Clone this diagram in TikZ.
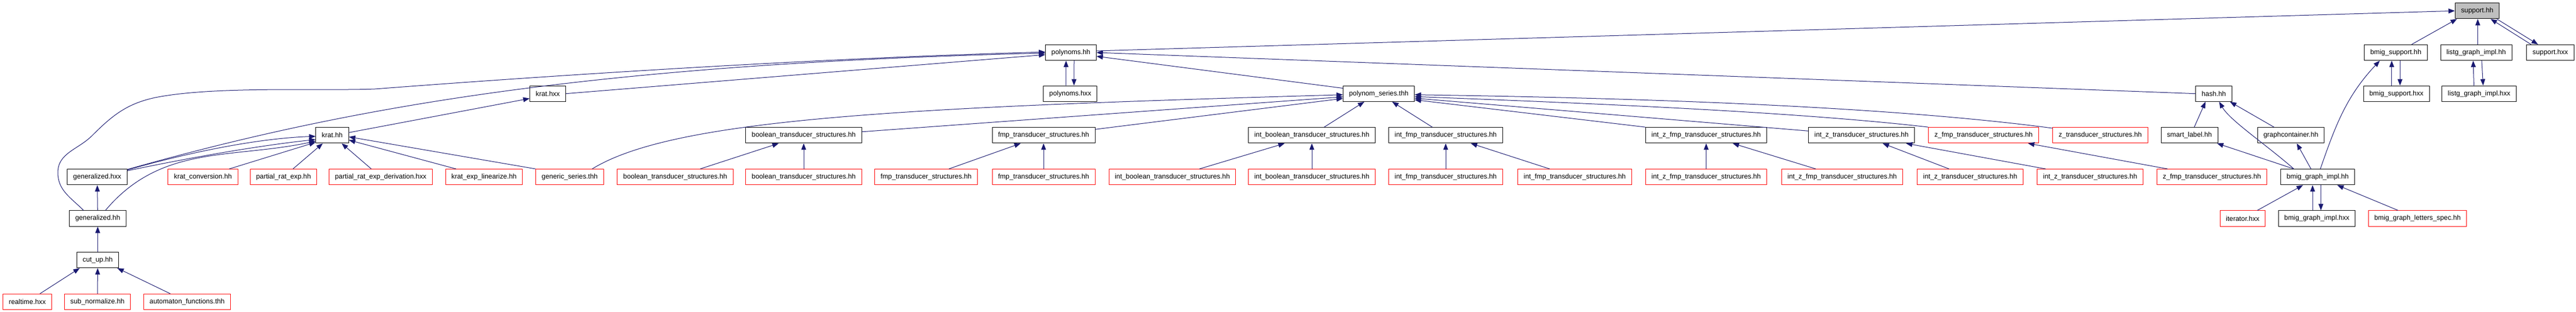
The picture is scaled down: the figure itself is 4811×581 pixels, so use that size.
\documentclass[tikz,border=0pt]{standalone}
\usepackage{fontspec}
\setmainfont{Liberation Sans}
\usetikzlibrary{positioning}
\usetikzlibrary{arrows.meta}
\usetikzlibrary{shapes}
\definecolor{edgeblue}{HTML}{191970}
\definecolor{selectedfill}{HTML}{BFBFBF}
\tikzset{
        filenode/.style={rectangle, align=center, line width=1pt, inner xsep=11pt, inner ysep=0pt, minimum height=29.3pt, font=\fontsize{12.8}{15}\selectfont},
        % Documented files
        node_documented/.style={filenode, draw=black, fill=white},
        % Undocumented files
        node_undocumented/.style={filenode, draw=red, fill=white},
        % The file the graph is drawn for
        node_selected/.style={filenode, draw=black, fill=selectedfill},
        % Include relations
        edge_include/.style={draw=edgeblue, line width=1pt, -{Triangle[length=12pt,width=9pt]}}
}

\begin{document}
\begin{tikzpicture}[x=1pt, y=-1pt]
            \useasboundingbox (0,0) rectangle (4811,581);
            % Rank 0
            \node[node_selected] (support_hh) at (4626.5,20.2) {support.hh};
            % Rank 1
            \node[node_documented] (polynoms_hh) at (2000,98) {polynoms.hh};
            \node[node_documented] (bmig_support_hh) at (4474.5,98) {bmig\_support.hh};
            \node[node_documented] (listg_hh) at (4624.5,98) {listg\_graph\_impl.hh};
            \node[node_documented] (support_hxx) at (4763,98) {support.hxx};
            % Rank 2
            \node[node_documented] (krat_hxx) at (1023,174.7) {krat.hxx};
            \node[node_documented] (polynoms_hxx) at (1998.8,174.7) {polynoms.hxx};
            \node[node_documented] (polynom_series) at (2575,174.7) {polynom\_series.thh};
            \node[node_documented] (hash_hh) at (4134.5,174.7) {hash.hh};
            \node[node_documented] (bmig_support_hxx) at (4475.5,174.7) {bmig\_support.hxx};
            \node[node_documented] (listg_hxx) at (4630,174.7) {listg\_graph\_impl.hxx};
            % Rank 3
            \node[node_documented] (krat_hh) at (620.5,252.3) {krat.hh};
            \node[node_documented] (bool_ts) at (1501,252.3) {boolean\_transducer\_structures.hh};
            \node[node_documented] (fmp_ts) at (1949,252.3) {fmp\_transducer\_structures.hh};
            \node[node_documented] (int_bool_ts) at (2450,252.3) {int\_boolean\_transducer\_structures.hh};
            \node[node_documented] (int_fmp_ts) at (2700,252.3) {int\_fmp\_transducer\_structures.hh};
            \node[node_documented] (int_z_fmp_ts) at (3186.5,252.3) {int\_z\_fmp\_transducer\_structures.hh};
            \node[node_documented] (int_z_ts) at (3476.5,252.3) {int\_z\_transducer\_structures.hh};
            \node[node_undocumented] (z_fmp_ts) at (3704.5,252.3) {z\_fmp\_transducer\_structures.hh};
            \node[node_undocumented] (z_ts) at (3922.5,252.3) {z\_transducer\_structures.hh};
            \node[node_documented] (smart_label) at (4089,252.3) {smart\_label.hh};
            \node[node_documented] (graphcontainer) at (4278.5,252.3) {graphcontainer.hh};
            % Rank 4
            \node[node_documented] (generalized_hxx) at (181.5,330.2) {generalized.hxx};
            \node[node_undocumented] (krat_conversion) at (379,330.2) {krat\_conversion.hh};
            \node[node_undocumented] (partial_rat_exp) at (529.5,330.2) {partial\_rat\_exp.hh};
            \node[node_undocumented] (partial_deriv) at (711,330.2) {partial\_rat\_exp\_derivation.hxx};
            \node[node_undocumented] (krat_exp_lin) at (904,330.2) {krat\_exp\_linearize.hh};
            \node[node_undocumented] (generic_series) at (1064,330.2) {generic\_series.thh};
            \node[node_undocumented] (bool_a) at (1261,330.2) {boolean\_transducer\_structures.hh};
            \node[node_undocumented] (bool_b) at (1501,330.2) {boolean\_transducer\_structures.hh};
            \node[node_undocumented] (fmp_a) at (1729.5,330.2) {fmp\_transducer\_structures.hh};
            \node[node_undocumented] (fmp_b) at (1949,330.2) {fmp\_transducer\_structures.hh};
            \node[node_undocumented] (int_bool_a) at (2189.5,330.2) {int\_boolean\_transducer\_structures.hh};
            \node[node_undocumented] (int_bool_b) at (2450,330.2) {int\_boolean\_transducer\_structures.hh};
            \node[node_undocumented] (int_fmp_a) at (2700,330.2) {int\_fmp\_transducer\_structures.hh};
            \node[node_undocumented] (int_fmp_b) at (2941,330.2) {int\_fmp\_transducer\_structures.hh};
            \node[node_undocumented] (int_z_fmp_a) at (3186.5,330.2) {int\_z\_fmp\_transducer\_structures.hh};
            \node[node_undocumented] (int_z_fmp_b) at (3440.5,330.2) {int\_z\_fmp\_transducer\_structures.hh};
            \node[node_undocumented] (int_z_a) at (3679.5,330.2) {int\_z\_transducer\_structures.hh};
            \node[node_undocumented] (int_z_b) at (3903.5,330.2) {int\_z\_transducer\_structures.hh};
            \node[node_undocumented] (z_fmp_b) at (4131,330.2) {z\_fmp\_transducer\_structures.hh};
            \node[node_documented] (bmig_graph_hh) at (4328.5,330.2) {bmig\_graph\_impl.hh};
            % Rank 5
            \node[node_documented] (generalized_hh) at (182.5,407.5) {generalized.hh};
            \node[node_undocumented] (iterator_hxx) at (4188.5,407.5) {iterator.hxx};
            \node[node_documented] (bmig_graph_hxx) at (4327,407.5) {bmig\_graph\_impl.hxx};
            \node[node_undocumented] (letters_spec) at (4515,407.5) {bmig\_graph\_letters\_spec.hh};
            % Rank 6
            \node[node_documented] (cut_up) at (182.5,485) {cut\_up.hh};
            % Rank 7
            \node[node_undocumented] (realtime) at (51,563) {realtime.hxx};
            \node[node_undocumented] (sub_normalize) at (182,563) {sub\_normalize.hh};
            \node[node_undocumented] (automaton_functions) at (349.5,563) {automaton\_functions.thh};

            % support.hh
            \draw[edge_include] ([yshift=3]polynoms_hh.east) -- (support_hh.west);
            \draw[edge_include] ([xshift=29.5]bmig_support_hh.north) -- ([xshift=4]support_hh.south west);
            \draw[edge_include] ([xshift=3]listg_hh.north) -- ([xshift=1]support_hh.south);
            \draw[edge_include] ([xshift=-36]support_hxx.north) -- ([xshift=25]support_hh.south);
            \draw[edge_include] ([xshift=36.5]support_hh.south) -- ([xshift=-23]support_hxx.north);
            % .hh / .hxx pairs
            \draw[edge_include] ([xshift=-8]polynoms_hxx.north) -- ([xshift=-9]polynoms_hh.south);
            \draw[edge_include] ([xshift=6]polynoms_hh.south) -- ([xshift=7]polynoms_hxx.north);
            \draw[edge_include] ([xshift=-8.7]bmig_support_hxx.north) -- ([xshift=-7.7]bmig_support_hh.south);
            \draw[edge_include] ([xshift=7.8]bmig_support_hh.south) -- ([xshift=6.8]bmig_support_hxx.north);
            \draw[edge_include] ([xshift=-9.6]listg_hxx.north) -- ([xshift=-5.6]listg_hh.south);
            \draw[edge_include] ([xshift=10.4]listg_hh.south) -- ([xshift=7.5]listg_hxx.north);
            \draw[edge_include] ([xshift=-8]bmig_graph_hxx.north) -- ([xshift=-9.5]bmig_graph_hh.south);
            \draw[edge_include] ([xshift=6]bmig_graph_hh.south) -- ([xshift=7.5]bmig_graph_hxx.north);
            % polynoms.hh
            \draw[edge_include] (hash_hh.west) -- (polynoms_hh.east);
            \draw[edge_include] ([yshift=-5]polynom_series.north west) -- ([yshift=-7]polynoms_hh.east);
            \draw[edge_include] (krat_hxx.east) -- ([yshift=-4]polynoms_hh.west);
            \draw[edge_include] ([yshift=-1]generalized_hxx.north east) .. controls (650,200) and (1100,120) .. ([yshift=-1]polynoms_hh.west);
            \draw[edge_include] ([xshift=-26.5]generalized_hh.north) to[out=135,in=-90] (108,322) to[out=90,in=-135] (172,253) to[out=45,in=-168] (290,182)
                .. controls (400,160) and (600,170) .. (700,166) .. controls (780,160) and (1400,112) .. ([yshift=1]polynoms_hh.west);
            % hash.hh and graph implementation
            \draw[edge_include] ([xshift=9]smart_label.north) -- ([xshift=-15.5]hash_hh.south);
            \draw[edge_include] ([xshift=-31.5]graphcontainer.north) -- ([xshift=-4]hash_hh.south east);
            \draw[edge_include] ([xshift=5]bmig_graph_hh.north) .. controls (4362.8,230.4) and (4383.2,178.5) .. ([xshift=-30]bmig_support_hh.south);
            \draw[edge_include] ([xshift=-44.5]bmig_graph_hh.north) .. controls (4230,268) and (4165,225) .. ([xshift=10]hash_hh.south);
            \draw[edge_include] ([xshift=-44.5]bmig_graph_hh.north) -- ([xshift=-2]smart_label.south east);
            \draw[edge_include] ([xshift=-12.5]bmig_graph_hh.north) -- ([xshift=11]graphcontainer.south);
            \draw[edge_include] (iterator_hxx) -- (bmig_graph_hh);
            \draw[edge_include] (letters_spec) -- (bmig_graph_hh);
            % polynom_series.thh
            \draw[edge_include] ([xshift=42]generic_series.north) .. controls (1260,220) and (1700,200) .. ([yshift=-2]polynom_series.west);
            \draw[edge_include] ([yshift=6.5]bool_ts.east) -- ([yshift=-6]polynom_series.west);
            \draw[edge_include] ([yshift=11]fmp_ts.east) -- ([yshift=-9]polynom_series.west);
            \draw[edge_include] ([xshift=23]int_bool_ts.north) -- ([xshift=-27]polynom_series.south);
            \draw[edge_include] ([xshift=-25]int_fmp_ts.north) -- ([xshift=25]polynom_series.south);
            \draw[edge_include] (int_z_fmp_ts.north west) -- ([yshift=-11.5]polynom_series.east);
            \draw[edge_include] ([yshift=8]int_z_ts.west) -- ([yshift=-8.5]polynom_series.east);
            \draw[edge_include] (z_fmp_ts.north west) .. controls (3350,208) and (2950,192) .. ([yshift=-5.5]polynom_series.east);
            \draw[edge_include] ([yshift=-2]z_ts.north west) .. controls (3500,195) and (3000,182) .. ([yshift=-2]polynom_series.east);
            % krat.hh
            \draw[edge_include] ([yshift=5]krat_hh.east) -- ([yshift=-9]krat_hxx.west);
            \draw[edge_include] ([yshift=-2]generalized_hxx.north east) .. controls (350,285) and (480,258) .. ([yshift=-2]krat_hh.west);
            \draw[edge_include] ([yshift=-3.5]generalized_hxx.north east) .. controls (350,295) and (480,272) .. ([yshift=-8]krat_hh.west);
            \draw[edge_include] ([xshift=14.5]generalized_hh.north) .. controls (301,269) and (430.8,296.9) .. ([yshift=-11]krat_hh.west);
            \draw[edge_include] (krat_conversion) -- ([yshift=2]krat_hh.south west);
            \draw[edge_include] (partial_rat_exp) -- (krat_hh);
            \draw[edge_include] (partial_deriv) -- (krat_hh);
            \draw[edge_include] ([xshift=20]krat_exp_lin.north west) -- ([yshift=-9]krat_hh.east);
            \draw[edge_include] (generic_series.north west) -- ([yshift=-3]krat_hh.east);
            % transducer structures
            \draw[edge_include] (bool_a) -- (bool_ts);
            \draw[edge_include] (bool_b) -- (bool_ts);
            \draw[edge_include] (fmp_a) -- (fmp_ts);
            \draw[edge_include] (fmp_b) -- (fmp_ts);
            \draw[edge_include] (int_bool_a) -- (int_bool_ts);
            \draw[edge_include] (int_bool_b) -- (int_bool_ts);
            \draw[edge_include] (int_fmp_a) -- (int_fmp_ts);
            \draw[edge_include] (int_fmp_b) -- (int_fmp_ts);
            \draw[edge_include] (int_z_fmp_a) -- (int_z_fmp_ts);
            \draw[edge_include] (int_z_fmp_b) -- (int_z_fmp_ts);
            \draw[edge_include] (int_z_a) -- (int_z_ts);
            \draw[edge_include] (int_z_b) -- (int_z_ts);
            \draw[edge_include] (z_fmp_b) -- (z_fmp_ts);
            % generalized and cut_up
            \draw[edge_include] (generalized_hh) -- (generalized_hxx);
            \draw[edge_include] (cut_up) -- (generalized_hh);
            \draw[edge_include] (realtime) -- ([xshift=6]cut_up.south west);
            \draw[edge_include] (sub_normalize) -- (cut_up);
            \draw[edge_include] (automaton_functions) -- ([xshift=-3]cut_up.south east);
\end{tikzpicture}
\end{document}
